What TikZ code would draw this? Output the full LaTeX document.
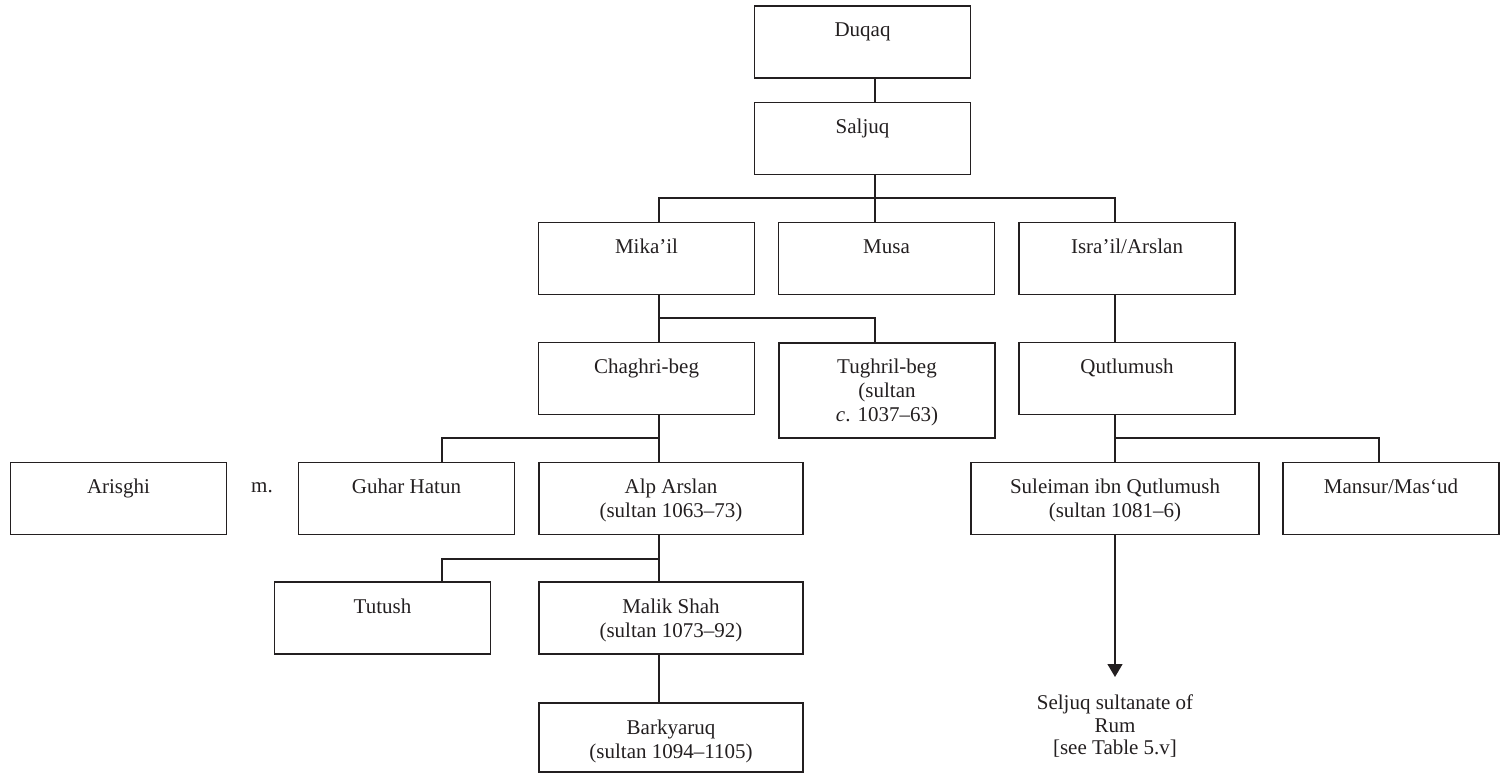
\documentclass[tikz,border=0pt]{standalone}
\usepackage{fontspec}
\setmainfont{Liberation Serif}
\usepackage{tikz}
\usetikzlibrary{arrows.meta}
\definecolor{ink}{HTML}{231F20}
% 多行文字,基线取第一行
\newcommand{\famrows}[1]{\begin{tabular}[t]{@{}c@{}}#1\end{tabular}}

\begin{document}
\begin{tikzpicture}[x=0.5pt, y=-0.5pt, font=\fontsize{10.5pt}{12pt}\selectfont, color=ink]
        % ================= 样式定义 =================
        \tikzset{
            % 人物方框:文字靠上
            person/.style={draw=ink, line width=0.65pt, inner xsep=2pt, inner ysep=0pt, minimum width=108pt, text height=15.5pt, text depth=20.5pt},
            % 较宽的方框(苏丹)
            wide/.style={minimum width=132pt},
            wider/.style={minimum width=144pt},
            % 家族连线
            link/.style={draw=ink, line width=0.65pt},
            % 指向鲁姆的箭头
            pointer/.style={link, -{Triangle[width=7.5pt, length=6.5pt]}}
        }
        \useasboundingbox (0,0) rectangle (1504,774);

        % ================= 1. 前三代 =================
        \node[person] (Duqaq) at (862.5,42) {Duqaq};
        \node[person] (Saljuq) at (862.5,138.5) {Saljuq};
        \node[person] (Mikail) at (646.5,258.5) {Mika’il};
        \node[person] (Musa) at (886.5,258.5) {Musa};
        \node[person] (Israil) at (1127,258.5) {Isra’il/Arslan};

        % ================= 2. 第四代 =================
        \node[person] (Chaghri) at (646.5,378.5) {Chaghri-beg};
        \node[person, text depth=32pt] (Tughril) at (887,390.5) {\famrows{Tughril-beg\\(sultan\\\textit{c}. 1037–63)}};
        \node[person] (Qutlumush) at (1127,378.5) {Qutlumush};

        % ================= 3. 第五代 =================
        \node[person] (Arisghi) at (118.5,498.5) {Arisghi};
        \node[anchor=base] (m) at (262,493) {m.};
        \node[person] (Guhar) at (406.5,498.5) {Guhar Hatun};
        \node[person, wide] (Alp) at (671,498.5) {\famrows{Alp Arslan\\(sultan 1063–73)}};
        \node[person, wider] (Suleiman) at (1115,498.5) {\famrows{Suleiman ibn Qutlumush\\(sultan 1081–6)}};
        \node[person] (Mansur) at (1391,498.5) {Mansur/Mas‘ud};

        % ================= 4. 第六、七代 =================
        \node[person] (Tutush) at (382.5,618) {Tutush};
        \node[person, wide] (Malik) at (671,618) {\famrows{Malik Shah\\(sultan 1073–92)}};
        \node[person, wide, text depth=19pt] (Barkyaruq) at (671,737.5) {\famrows{Barkyaruq\\(sultan 1094–1105)}};
        \node[align=center, inner xsep=0pt, inner ysep=8.8pt, anchor=north, font=\fontsize{10.5pt}{11.25pt}\selectfont] (Rum) at (1115,677) {Seljuq sultanate of\\Rum\\{[see Table 5.v]}};

        % ================= 5. 连线 =================
        \draw[link] (Duqaq.south -| 875,0) -- (Saljuq.north -| 875,0);
        \draw[link] (Saljuq.south -| 875,0) -- (Musa.north -| 875,0);
        \draw[link] (Mikail.north -| 659,0) |- (1115,198) -- (Israil.north -| 1115,0);

        \draw[link] (Mikail.south -| 659,0) -- (Chaghri.north -| 659,0);
        \draw[link] (Mikail.south -| 659,0) |- (875,318) -- (Tughril.north -| 875,0);
        \draw[link] (Israil.south -| 1115,0) -- (Qutlumush.north -| 1115,0);

        \draw[link] (Chaghri.south -| 659,0) -- (Alp.north -| 659,0);
        \draw[link] (Chaghri.south -| 659,0) |- (442,438) -- (Guhar.north -| 442,0);
        \draw[link] (Qutlumush.south -| 1115,0) -- (Suleiman.north);
        \draw[link] (Qutlumush.south -| 1115,0) |- (1379,438) -- (Mansur.north -| 1379,0);

        \draw[link] (Alp.south -| 659,0) -- (Malik.north -| 659,0);
        \draw[link] (Alp.south -| 659,0) |- (442,559) -- (Tutush.north -| 442,0);
        \draw[link] (Malik.south -| 659,0) -- (Barkyaruq.north -| 659,0);

        % --- 苏莱曼 -> 鲁姆苏丹国 ---
        \draw[pointer] (Suleiman) -- (Rum);

    \end{tikzpicture}
\end{document}
